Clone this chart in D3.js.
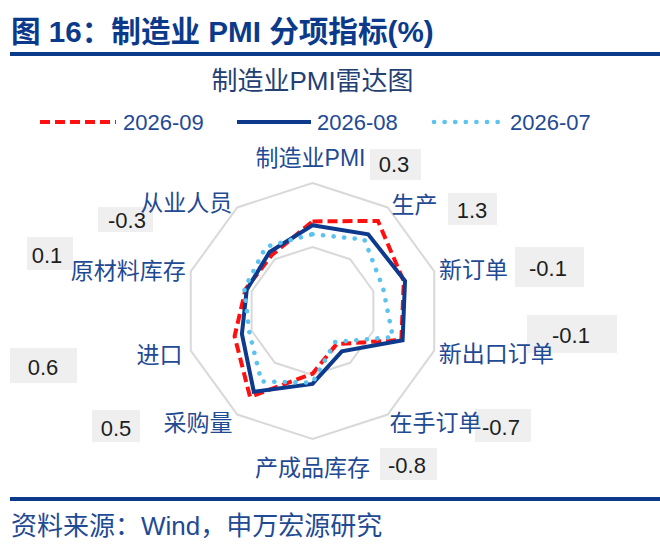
<!DOCTYPE html>
<html>
<head>
<meta charset="utf-8">
<script src="https://cdn.jsdelivr.net/npm/d3@7"></script>
<style>
  html, body { margin: 0; padding: 0; background: #fff; }
  svg { display: block; }
  text { font-family: "Liberation Sans", "Noto Sans CJK SC", sans-serif; }
</style>
</head>
<body>
<svg id="chart" width="660" height="546"></svg>
<script>
// ---------------- data ----------------
const categories = ["制造业PMI", "生产", "新订单", "新出口订单", "在手订单", "产成品库存", "采购量", "进口", "原材料库存", "从业人员"];
const seriesNames = ["2026-09", "2026-08", "2026-07"];
const sep2026 = [50.0, 51.7, 50.5, 50.3, 46.2, 47.9, 51.3, 49.4, 48.5, 48.4];
const aug2026 = [49.7, 50.4, 50.6, 50.4, 46.9, 48.7, 50.8, 48.8, 48.4, 48.7];
const jul2026 = [49.0, 49.9, 48.8, 49.6, 46.0, 48.6, 49.8, 48.2, 48.6, 49.2];
const changes = [0.3, 1.3, -0.1, -0.1, -0.7, -0.8, 0.5, 0.6, 0.1, -0.3];
const radialDomain = [43, 53];
const gridTicks = [48, 53];

// ---------------- layout ----------------
const W = 660, H = 546;
const cx = 312.5, cy = 311, R = 128;
const navy = "#0c3a8a";
const labelBlue = "#1f4a94";
const styles = [
  { color: "#ff1010", dash: "10,5", width: 4, cap: "butt" },
  { color: "#0d3a8c", dash: null, width: 4, cap: "butt" },
  { color: "#5cc3ee", dash: "0.1,10.5", width: 4.6, cap: "round" }
];
// label radial offsets / anchors (per axis)
const labelLayout = [
  { r: 153, anchor: "middle", dx: -2, dy: 0 },
  { r: 131, anchor: "start", dx: 2, dy: 0 },
  { r: 133, anchor: "start", dx: 0, dy: 0 },
  { r: 139, anchor: "start", dx: -6, dy: 0 },
  { r: 138, anchor: "start", dx: -4, dy: 0 },
  { r: 157, anchor: "middle", dx: 0, dy: 0 },
  { r: 138, anchor: "end", dx: 1, dy: 0 },
  { r: 142, anchor: "end", dx: 5, dy: 0 },
  { r: 129, anchor: "end", dx: -4, dy: 0 },
  { r: 133, anchor: "end", dx: -2, dy: 0 }
];
// annotation boxes: x, y, w, h, text-center-x, text-center-y
const boxLayout = [
  [370, 149, 51, 31, 394, 164],
  [448, 193, 49, 32, 472, 210],
  [515, 247, 69, 40, 548, 268],
  [527, 315, 90, 38, 571, 335],
  [475, 409, 56, 33, 501, 427],
  [380, 448, 57, 32, 407, 465],
  [92, 410, 48, 32, 116, 428],
  [10, 348, 67, 35, 43, 367],
  [27, 237, 46, 33, 47, 255],
  [98, 207, 55, 25, 127, 220]
];

const svg = d3.select("#chart");

// header
svg.append("text")
  .attr("x", 11).attr("y", 31)
  .attr("dominant-baseline", "central")
  .attr("font-size", 29.6).attr("font-weight", "bold")
  .attr("fill", navy)
  .text("图 16：制造业 PMI 分项指标(%)");
svg.append("rect").attr("x", 10).attr("y", 52).attr("width", W - 10).attr("height", 4).attr("fill", navy);

// chart title
svg.append("text")
  .attr("x", cx).attr("y", 81)
  .attr("text-anchor", "middle").attr("dominant-baseline", "central")
  .attr("font-size", 26).attr("fill", "#243f72")
  .text("制造业PMI雷达图");

// legend
const legendX = [[40, 116], [237, 311], [434, 502]];
const legendTextX = [123, 317, 510];
const legendY = 122;
seriesNames.forEach((name, i) => {
  const s = styles[i];
  svg.append("line")
    .attr("x1", legendX[i][0]).attr("x2", legendX[i][1])
    .attr("y1", legendY).attr("y2", legendY)
    .attr("stroke", s.color).attr("stroke-width", s.width)
    .attr("stroke-dasharray", s.dash).attr("stroke-linecap", s.cap);
  svg.append("text")
    .attr("x", legendTextX[i]).attr("y", legendY)
    .attr("dominant-baseline", "central")
    .attr("font-size", 22).attr("fill", labelBlue)
    .text(name);
});

// radar
const rScale = d3.scaleLinear().domain(radialDomain).range([0, R]);
const angle = d3.scaleLinear().domain([0, categories.length]).range([0, 2 * Math.PI]);
const g = svg.append("g").attr("transform", `translate(${cx},${cy})`);

const radial = d3.lineRadial()
  .angle((d, i) => angle(i))
  .radius(d => rScale(d))
  .curve(d3.curveLinearClosed);

// grid decagons
gridTicks.forEach(t => {
  g.append("path")
    .attr("d", radial(categories.map(() => t)))
    .attr("fill", "none").attr("stroke", "#d9d9d9").attr("stroke-width", 2);
});

// series
[sep2026, aug2026, jul2026].forEach((vals, i) => {
  const s = styles[i];
  g.append("path")
    .attr("d", radial(vals))
    .attr("fill", "none")
    .attr("stroke", s.color).attr("stroke-width", s.width)
    .attr("stroke-dasharray", s.dash)
    .attr("stroke-linecap", s.cap)
    .attr("stroke-linejoin", "miter");
});

// change boxes (background first)
changes.forEach((v, i) => {
  const [bx, by, bw, bh] = boxLayout[i];
  svg.append("rect").attr("x", bx).attr("y", by).attr("width", bw).attr("height", bh).attr("fill", "#efefef");
});

// axis labels
categories.forEach((c, i) => {
  const L = labelLayout[i];
  const a = angle(i);
  const x = cx + L.r * Math.sin(a) + L.dx;
  const y = cy - L.r * Math.cos(a) + L.dy;
  svg.append("text")
    .attr("x", x).attr("y", y)
    .attr("text-anchor", L.anchor).attr("dominant-baseline", "central")
    .attr("font-size", 23).attr("fill", labelBlue)
    .text(c);
});

// change values
const fmt = v => v.toFixed(1);
changes.forEach((v, i) => {
  const [, , , , tx, ty] = boxLayout[i];
  svg.append("text")
    .attr("x", tx).attr("y", ty)
    .attr("text-anchor", "middle").attr("dominant-baseline", "central")
    .attr("font-size", 22).attr("fill", "#1e1e1e")
    .text(fmt(v));
});

// footer
svg.append("rect").attr("x", 10).attr("y", 497).attr("width", W - 10).attr("height", 4).attr("fill", navy);
svg.append("text")
  .attr("x", 11).attr("y", 526)
  .attr("dominant-baseline", "central")
  .attr("font-size", 26).attr("fill", "#1f4a94")
  .text("资料来源：Wind，申万宏源研究");
</script>
</body>
</html>
